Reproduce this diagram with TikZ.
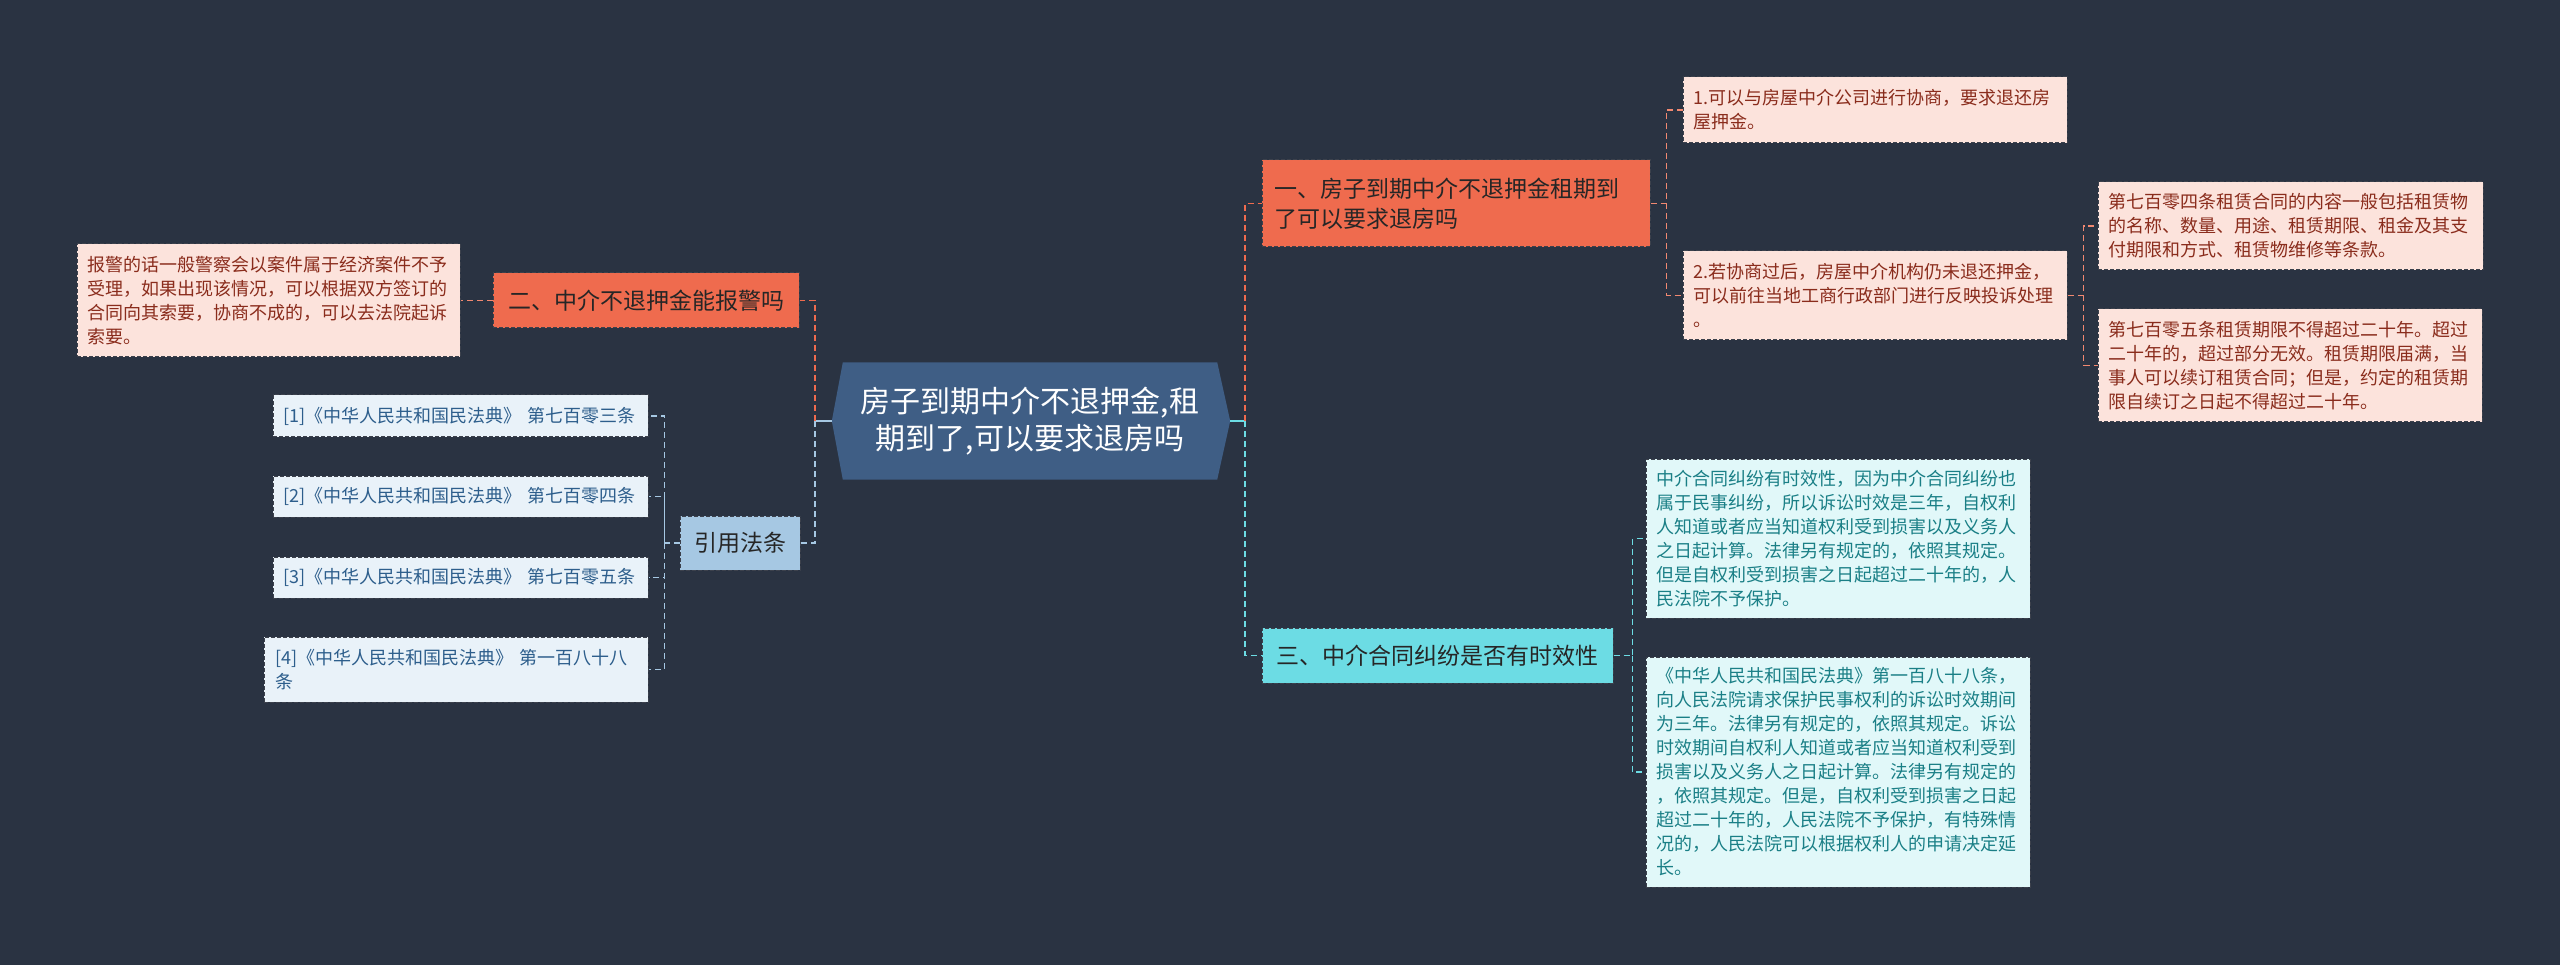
\documentclass[tikz,border=0pt]{standalone}
\usepackage{fontspec}
\setmainfont{Noto Sans CJK SC}
\usetikzlibrary{backgrounds}

\definecolor{bgnavy}{HTML}{2A3342}
\definecolor{rootblue}{HTML}{3F5E85}
\definecolor{coral}{HTML}{EF6B4E}
\definecolor{aqua}{HTML}{6CDCE4}
\definecolor{steel}{HTML}{A6C8E3}
\definecolor{pinkfill}{HTML}{FCE3DC}
\definecolor{pinktext}{HTML}{8A2C1C}
\definecolor{aquafill}{HTML}{E1F8F9}
\definecolor{aquatext}{HTML}{1A7F86}
\definecolor{bluefill}{HTML}{E9F2F9}
\definecolor{bluetext}{HTML}{2D5E8C}
\definecolor{boxline}{HTML}{3C414C}

\begin{document}
\begin{tikzpicture}[x=1pt, y=-1pt,
  rootnode/.style={minimum width=374pt, minimum height=117pt, inner sep=0pt, align=center, text=white, font=\fontsize{30}{37}\selectfont},
  branch/.style={draw=boxline, dash pattern=on 4pt off 2pt, line width=1pt, inner xsep=12pt, inner ysep=0pt, align=left, text=black!85, font=\fontsize{23}{30}\selectfont},
  leaf/.style={draw=boxline, dash pattern=on 4pt off 2pt, line width=1pt, inner xsep=10pt, inner ysep=0pt, align=left, text width=364pt, font=\fontsize{18}{24}\selectfont},
  link/.style={line width=1.8pt, dash pattern=on 6pt off 4pt}]

    \useasboundingbox (0,0) rectangle (2560,965);

    % Draw root
    \node[rootnode] (root) at (1030,421) {房子到期中介不退押金,租\\期到了,可以要求退房吗};

    % Draw branches
    \node[branch, fill=coral, text width=364pt, minimum height=87pt] (b1) at (1456,203.5) {一、房子到期中介不退押金租期到\\了可以要求退房吗};
    \node[branch, fill=coral, minimum width=306pt, minimum height=55pt] (b2) at (646,300.5) {二、中介不退押金能报警吗};
    \node[branch, fill=aqua, minimum width=351pt, minimum height=55pt] (b3) at (1437.5,655.5) {三、中介合同纠纷是否有时效性};
    \node[branch, fill=steel, minimum width=120pt, minimum height=54pt] (b4) at (740,543) {引用法条};

    % Draw leaves
    \node[leaf, fill=pinkfill, text=pinktext, minimum height=113pt, text width=363pt] (l1) at (268.5,300.5) {报警的话一般警察会以案件属于经济案件不予\\受理，如果出现该情况，可以根据双方签订的\\合同向其索要，协商不成的，可以去法院起诉\\索要。};
    \node[leaf, fill=pinkfill, text=pinktext, minimum height=66pt] (r1) at (1875,110) {1.可以与房屋中介公司进行协商，要求退还房\\屋押金。};
    \node[leaf, fill=pinkfill, text=pinktext, minimum height=89pt] (r2) at (1875,295.5) {2.若协商过后，房屋中介机构仍未退还押金，\\可以前往当地工商行政部门进行反映投诉处理\\。};
    \node[leaf, fill=pinkfill, text=pinktext, minimum height=88pt, text width=365pt] (r3) at (2290.5,226) {第七百零四条租赁合同的内容一般包括租赁物\\的名称、数量、用途、租赁期限、租金及其支\\付期限和方式、租赁物维修等条款。};
    \node[leaf, fill=pinkfill, text=pinktext, minimum height=113pt] (r4) at (2290,365.5) {第七百零五条租赁期限不得超过二十年。超过\\二十年的，超过部分无效。租赁期限届满，当\\事人可以续订租赁合同；但是，约定的租赁期\\限自续订之日起不得超过二十年。};
    \node[leaf, fill=aquafill, text=aquatext, minimum height=159pt] (t1) at (1838,538.5) {中介合同纠纷有时效性，因为中介合同纠纷也\\属于民事纠纷，所以诉讼时效是三年，自权利\\人知道或者应当知道权利受到损害以及义务人\\之日起计算。法律另有规定的，依照其规定。\\但是自权利受到损害之日起超过二十年的，人\\民法院不予保护。};
    \node[leaf, fill=aquafill, text=aquatext, minimum height=230pt] (t2) at (1838,772) {《中华人民共和国民法典》第一百八十八条，\\向人民法院请求保护民事权利的诉讼时效期间\\为三年。法律另有规定的，依照其规定。诉讼\\时效期间自权利人知道或者应当知道权利受到\\损害以及义务人之日起计算。法律另有规定的\\，依照其规定。但是，自权利受到损害之日起\\超过二十年的，人民法院不予保护，有特殊情\\况的，人民法院可以根据权利人的申请决定延\\长。};
    \node[leaf, fill=bluefill, text=bluetext, minimum height=42pt, text width=355pt, inner xsep=10pt] (c1) at (460.5,416) {[1]《中华人民共和国民法典》~第七百零三条};
    \node[leaf, fill=bluefill, text=bluetext, minimum height=41pt, text width=355pt, inner xsep=10pt] (c2) at (460.5,496.5) {[2]《中华人民共和国民法典》~第七百零四条};
    \node[leaf, fill=bluefill, text=bluetext, minimum height=41pt, text width=355pt, inner xsep=10pt] (c3) at (460.5,577.5) {[3]《中华人民共和国民法典》~第七百零五条};
    \node[leaf, fill=bluefill, text=bluetext, minimum height=65pt, text width=362pt, inner xsep=11pt] (c4) at (456,669.5) {[4]《中华人民共和国民法典》 第一百八十八\\条};

    % Background and root shape
    \begin{scope}[on background layer]
        \fill[bgnavy] (0,0) rectangle (2560,965);
        \fill[rootblue] (root.north west) -- (root.north east) -- ([xshift=13pt]root.east) -- (root.south east) -- (root.south west) -- ([xshift=-11pt]root.west) -- cycle;
    \end{scope}

    % Junctions
    \coordinate (rootL) at ([xshift=-11pt]root.west);
    \coordinate (rootR) at ([xshift=13pt]root.east);
    \coordinate (jl) at ([xshift=-17pt]rootL);
    \coordinate (jr) at ([xshift=15pt]rootR);
    \coordinate (j1) at ([xshift=16pt]b1.east);
    \coordinate (j2) at ([xshift=16pt]r2.east);
    \coordinate (j3) at ([xshift=19pt]b3.east);
    \coordinate (j4) at ([xshift=-15pt]b4.west);

    % Draw edges
    \draw[steel, line width=1.8pt] (rootL) -- (jl);
    \draw[aqua, line width=1.8pt] (rootR) -- (jr);
    \draw[link, coral] (jl) |- (b2.east);
    \draw[link, steel] (jl) |- (b4.east);
    \draw[link, coral] (jr) |- (b1.west);
    \draw[link, aqua] (jr) |- (b3.west);

    \draw[link, coral!80!white] (b2.west) -- (l1.east);
    \draw[link, coral!80!white] (b1.east) -- (j1) |- (r1.west);
    \draw[link, coral!80!white] (j1) |- (r2.west);
    \draw[link, coral!80!white] (r2.east) -- (j2) |- (r3.west);
    \draw[link, coral!80!white] (j2) |- (r4.west);
    \draw[link, aqua] (b3.east) -- (j3) |- (t1.west);
    \draw[link, aqua] (j3) |- (t2.west);
    \draw[link, steel] (b4.west) -- (j4) |- (c1.east);
    \draw[link, steel] (j4) |- (c2.east);
    \draw[link, steel] (j4) |- (c3.east);
    \draw[link, steel] (j4) |- (c4.east);
\end{tikzpicture}
\end{document}
